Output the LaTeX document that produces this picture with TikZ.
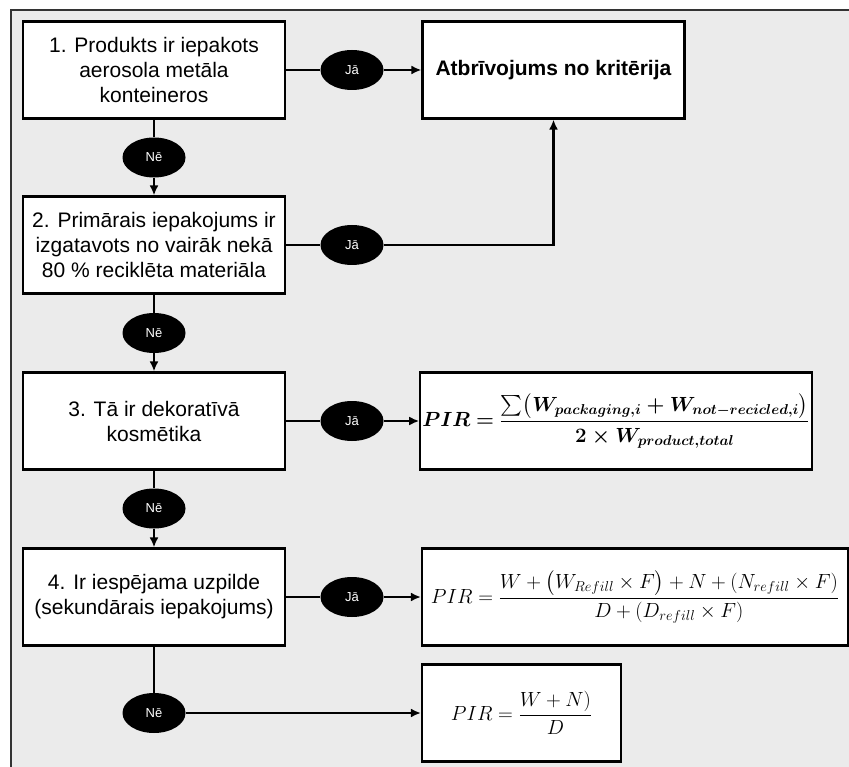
\RequirePackage{fix-cm}
\documentclass[tikz,border=0pt]{standalone}
\usepackage{amsmath}
\usepackage{bm}
\usepackage[no-math]{fontspec}
\setmainfont{Liberation Sans}
\usepackage{tikz}
\usetikzlibrary{arrows.meta,shapes.geometric}
\definecolor{panelgray}{HTML}{EBEBEB}
\definecolor{framegray}{HTML}{333333}
\tikzstyle{question}=[draw, fill=white, line width=2.2pt, minimum width=262pt,
                      minimum height=97pt, align=center, inner sep=2pt,
                      font=\fontsize{21}{25}\selectfont]
\tikzstyle{result}=[question, font=\fontsize{20.5}{24}\selectfont]
\tikzstyle{answer}=[ellipse, fill=black, text=white, minimum width=63pt,
                    minimum height=40pt, inner sep=0pt,
                    font=\fontsize{13}{15}\selectfont]
\tikzstyle{flow-line}=[line width=2.4pt]
\tikzstyle{flow-arrow}=[flow-line, -{Latex[length=10pt,width=9pt]}]

\begin{document}
\begin{tikzpicture}[x=1pt,y=-1pt]
\useasboundingbox (0,0) rectangle (849,767);
\fill[panelgray] (11,10) rectangle (849,767);
\draw[framegray, line width=2.4pt] (11,767) -- (11,10) -- (849,10);

\node[question] (q1) at (154,70) {1. Produkts ir iepakots\\aerosola metāla\\konteineros};
\node[question] (q2) at (154,245) {2. Primārais iepakojums ir\\izgatavots no vairāk nekā\\80 \% reciklēta materiāla};
\node[question] (q3) at (154,421) {3. Tā ir dekoratīvā\\kosmētika};
\node[question] (q4) at (154,597) {4. Ir iespējama uzpilde\\(sekundārais iepakojums)};
\node[question] (exempt) at (553.5,70) {\textbf{Atbrīvojums no kritērija}};
\node[result, minimum width=388pt] (pir1) at (616,421)
  {$\displaystyle\boldsymbol{PIR=\frac{\sum\bigl(W_{packaging,i}+W_{not-recicled,i}\bigr)}{2\times W_{product,total}}}$};
\node[result, minimum width=426pt] (pir2) at (635,597)
  {$\displaystyle PIR=\frac{W+\bigl(W_{Refill}\times F\bigr)+N+(N_{refill}\times F)}{D+(D_{refill}\times F)}$};
\node[result, minimum width=199pt] (pir3) at (521.5,713)
  {$\displaystyle PIR=\frac{W+N)}{D}$};

\node[answer] (yes1) at (352,70) {Jā};
\node[answer] (yes2) at (352,245) {Jā};
\node[answer] (yes3) at (352,421) {Jā};
\node[answer] (yes4) at (352,597) {Jā};
\node[answer] (no1) at (154,157.5) {Nē};
\node[answer] (no2) at (154,333) {Nē};
\node[answer] (no3) at (154,508.5) {Nē};
\node[answer] (no4) at (154,713) {Nē};

\draw[flow-line] (q1) -- (yes1);
\draw[flow-arrow] (yes1) -- (exempt);
\draw[flow-line] (q2) -- (yes2);
\draw[flow-arrow] (yes2) -| (exempt);
\draw[flow-line] (q3) -- (yes3);
\draw[flow-arrow] (yes3) -- (pir1);
\draw[flow-line] (q4) -- (yes4);
\draw[flow-arrow] (yes4) -- (pir2);
\draw[flow-line] (q1) -- (no1);
\draw[flow-arrow] (no1) -- (q2);
\draw[flow-line] (q2) -- (no2);
\draw[flow-arrow] (no2) -- (q3);
\draw[flow-line] (q3) -- (no3);
\draw[flow-arrow] (no3) -- (q4);
\draw[flow-line] (q4) -- (no4);
\draw[flow-arrow] (no4) -- (pir3);

\end{tikzpicture}
\end{document}
